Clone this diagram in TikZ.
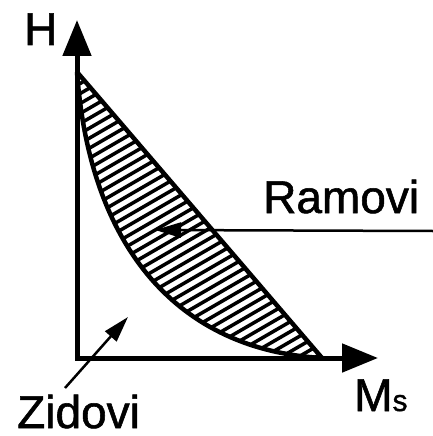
\documentclass[tikz,border=0pt]{standalone}
\usepackage{fontspec}
\setmainfont{Liberation Sans}[FakeBold=1.2]
\usetikzlibrary{arrows.meta}
\begin{document}
\begin{tikzpicture}[x=1pt,y=-1pt,
  axes/.style={line width=5pt,line join=miter,{Triangle[length=36pt,width=28pt]}-{Triangle[length=36pt,width=28pt]}},
  curve/.style={line width=4.5pt},
  hatch/.style={line width=3.5pt},
  leader/.style={line width=2.5pt,-{Triangle[length=26pt,width=15pt]}},
  lbl/.style={inner sep=0pt,anchor=base west,font=\fontsize{46}{55}\selectfont}]
\useasboundingbox (0,0) rectangle (433,436);
\coordinate (O) at (77,358);
\coordinate (top) at (77,72);
\coordinate (end) at (322,358);
\coordinate (yend) at (77,20);
\coordinate (xend) at (378,358);
\begin{scope}
  \clip (top) -- (end) .. controls (180,350) and (90,250) .. (top) -- cycle;
  \foreach \c in {100,110,...,570} \draw[hatch] (50,{\c-29}) -- (350,{\c-203});
\end{scope}
\draw[curve] (top) -- (end);
\draw[curve] (top) .. controls (90,250) and (180,350) .. (end);
\draw[axes] (yend) -- (O) -- (xend);
\node[lbl] (H) at (24,45) {H};
\node[lbl] (Ms) at (354,411) {M{\fontsize{30}{36}\selectfont s}};
\node[lbl] (Ramovi) at (263,213) {Ramovi};
\node[lbl] (Zidovi) at (17,428) {Zidovi};
\coordinate (rtail) at (433,231);
\coordinate (rtip) at (155,230);
\coordinate (ztail) at (65,388);
\coordinate (ztip) at (128,317);
\draw[leader] (rtail) -- (rtip);
\draw[leader] (ztail) -- (ztip);
\end{tikzpicture}
\end{document}
